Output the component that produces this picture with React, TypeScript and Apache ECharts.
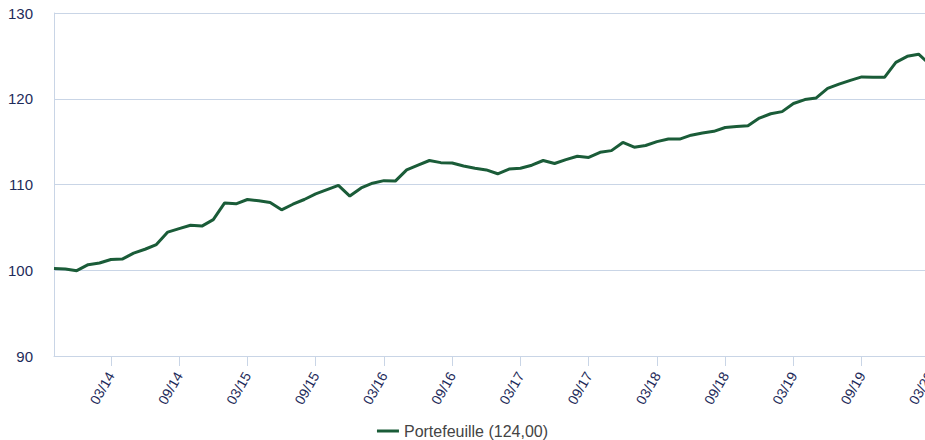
import React, { useEffect, useRef } from "react";
import * as echarts from "echarts";

const startYear = 2013;
const startMonth = 10;
const monthCount = 78;
const categories: string[] = Array.from({ length: monthCount }, (_, i) => {
  const m = ((startMonth - 1 + i) % 12) + 1;
  const y = startYear + Math.floor((startMonth - 1 + i) / 12);
  return `${String(m).padStart(2, "0")}/${String(y % 100).padStart(2, "0")}`;
});

const portefeuille: number[] = [
  100.2, 100.15, 99.95, 100.65, 100.85, 101.25, 101.3, 102.0, 102.45, 103.0,
  104.45, 104.85, 105.25, 105.15, 105.9, 107.85, 107.75, 108.25, 108.1, 107.9,
  107.05, 107.7, 108.25, 108.9, 109.4, 109.9, 108.65, 109.6, 110.15, 110.45,
  110.4, 111.7, 112.25, 112.8, 112.55, 112.5, 112.15, 111.9, 111.7, 111.25,
  111.8, 111.9, 112.25, 112.8, 112.45, 112.9, 113.3, 113.15, 113.75, 113.95,
  114.9, 114.35, 114.55, 115.0, 115.3, 115.3, 115.75, 116.0, 116.2, 116.65,
  116.75, 116.85, 117.75, 118.25, 118.5, 119.45, 119.9, 120.1, 121.2, 121.7,
  122.15, 122.55, 122.5, 122.5, 124.25, 124.95, 125.2, 124.0,
];

const seriesName = "Portefeuille";
const legendLabel = "Portefeuille (124,00)";
const shownMonths = ["03", "09"];

const FONT = "'Liberation Sans', Arial, Helvetica, sans-serif";
const NAVY = "#1e2b5a";
const GRID = "#c9d5e6";
const GREEN = "#1a5c38";

export default function App() {
  const ref = useRef<HTMLDivElement>(null);
  useEffect(() => {
    document.body.style.margin = "0";
    document.body.style.overflow = "hidden";
    if (!ref.current) return;
    const chart = echarts.init(ref.current, undefined, { renderer: "svg" });
    const isShown = (_i: number, v: string) => shownMonths.includes(String(v).slice(0, 2));
    chart.setOption({
      animation: false,
      grid: {
        left: 54,
        top: 13,
        right: -5,
        bottom: 84,
        containLabel: false,
        outerBoundsMode: "none",
      },
      legend: {
        data: [{ name: seriesName, icon: "rect" }],
        formatter: () => legendLabel,
        top: 418,
        left: "center",
        itemWidth: 22,
        itemHeight: 3,
        itemGap: 10,
        textStyle: { fontFamily: FONT, fontSize: 16, color: "#444" },
      },
      xAxis: {
        type: "category",
        data: categories,
        boundaryGap: false,
        axisLine: { show: true, lineStyle: { color: GRID, width: 1 } },
        axisTick: { show: true, interval: isShown, length: 10, lineStyle: { color: GRID } },
        axisLabel: {
          interval: isShown,
          rotate: 60,
          margin: 17,
          fontFamily: FONT,
          fontSize: 14,
          color: NAVY,
        },
        splitLine: { show: false },
      },
      yAxis: {
        type: "value",
        min: 90,
        max: 130,
        interval: 10,
        axisLine: { show: true, lineStyle: { color: GRID, width: 1 } },
        axisTick: { show: false },
        axisLabel: { margin: 21, fontFamily: FONT, fontSize: 15, color: NAVY },
        splitLine: { show: true, lineStyle: { color: GRID, width: 1 } },
      },
      series: [
        {
          name: seriesName,
          type: "line",
          data: portefeuille,
          showSymbol: false,
          symbol: "none",
          lineStyle: { color: GREEN, width: 3 },
          itemStyle: { color: GREEN },
        },
      ],
    });
    return () => chart.dispose();
  }, []);
  return <div ref={ref} style={{ width: 925, height: 440 }} />;
}
